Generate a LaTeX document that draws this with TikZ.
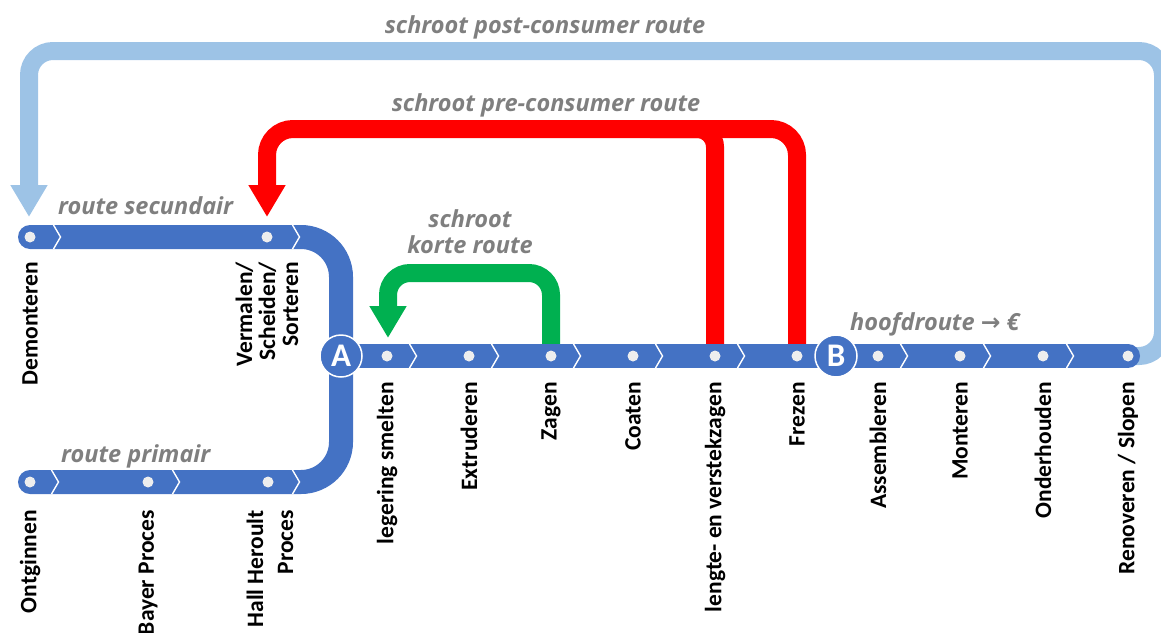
\documentclass[tikz,border=0pt]{standalone}
\usepackage{fontspec}
\setmainfont{Carlito}
\newfontfamily\routefont{Open Sans}
\newfontfamily\symfont{DejaVu Sans}
\usetikzlibrary{arrows.meta}

\definecolor{lineblue}{HTML}{4472C4}
\definecolor{scrapblue}{HTML}{9DC3E6}
\definecolor{scrapred}{HTML}{FF0000}
\definecolor{scrapgreen}{HTML}{00B050}
\definecolor{stopfill}{HTML}{EEEEEE}
\definecolor{routegray}{HTML}{7F7F7F}

\begin{document}
\begin{tikzpicture}[x=1pt,y=-1pt,
  track/.style={draw=lineblue,line width=24pt,line cap=round,rounded corners=40pt},
  scrap/.style={line width=18pt,-{Triangle[width=35pt,length=32pt]}},
  chev/.style={draw=white,line width=1.4pt},
  stop/.style={circle,fill=stopfill,minimum size=11pt,inner sep=0pt},
  hub/.style={circle,fill=lineblue,draw=white,line width=1.5pt,minimum size=42pt,
    inner sep=0pt,text=white,font=\bfseries\fontsize{33}{33}\selectfont},
  stoplabel/.style={rotate=90,anchor=east,inner sep=0pt,align=right,
    font=\bfseries\fontsize{23.5}{23}\selectfont},
  routelabel/.style={inner sep=0pt,text=routegray,align=center,
    font=\routefont\bfseries\itshape\fontsize{23.5}{26}\selectfont}]
\useasboundingbox (0,0) rectangle (1161,632);

% stations
\node[stop] (dem) at (30,237) {};
\node[stop] (ver) at (267,237) {};
\node[stop] (ont) at (30,482) {};
\node[stop] (bay) at (148,482) {};
\node[stop] (hal) at (268,482) {};
\node[stop] (leg) at (387,356) {};
\node[stop] (ext) at (469,356) {};
\node[stop] (zag) at (551,356) {};
\node[stop] (coa) at (633,356) {};
\node[stop] (len) at (715,356) {};
\node[stop] (frez) at (797,356) {};
\node[stop] (ass) at (878,356) {};
\node[stop] (mon) at (960,356) {};
\node[stop] (ond) at (1043,356) {};
\node[stop] (ren) at (1128,356) {};
\node[hub] (A) at (341,356) {A};
\node[hub] (B) at (836,356) {B};

% arrow tip ends of the scrap routes
\coordinate (tipPost) at (29,217);
\coordinate (tipPre) at (267,217);
\coordinate (tipShort) at (388,338);

% post-consumer scrap route
\draw[scrap,draw=scrapblue,rounded corners=24pt]
  (ren.center) -- (1163,356) -- (1163,51) -- (29,51) -- (tipPost);
% pre-consumer scrap route
\draw[scrap,draw=scrapred,rounded corners=26pt]
  (frez.center) -- (797,129) -- (267,129) -- (tipPre);
\draw[draw=scrapred,line width=18pt,rounded corners=18pt]
  (len.center) -- (715,129) -- (650,129);
% short scrap route
\draw[scrap,draw=scrapgreen,rounded corners=22pt]
  (zag.center) -- (551,273) -- (388,273) -- (tipShort);

% tracks
\draw[track] (dem.center) -| (A.center);
\draw[track] (ont.center) -| (A.center);
\draw[track] (A.center) -- (ren.center);

% direction chevrons
\foreach \x/\y in {57/237,296/237,55/482,176/482,296/482,
  413/356,495/356,577/356,659/356,741/356,904/356,987/356,1070/356}
  \draw[chev] (\x-3.5,\y-12) -- (\x+3.5,\y) -- (\x-3.5,\y+12);

% stations and hubs on top
\foreach \s in {dem,ver,ont,bay,hal,leg,ext,zag,coa,len,frez,ass,mon,ond,ren}
  \fill[stopfill] (\s) circle (5.5pt);
\node[hub] at (A) {A};
\node[hub] at (B) {B};

% station names
\node[stoplabel] (l-dem) at (30,262) {Demonteren};
\node[stoplabel] (l-ver) at (267,262) {Vermalen/\\Scheiden/\\Sorteren};
\node[stoplabel] (l-ont) at (30,510) {Ontginnen};
\node[stoplabel] (l-bay) at (148,510) {Bayer Proces};
\node[stoplabel,font=\bfseries\fontsize{23.5}{30}\selectfont] (l-hal) at (270,510) {Hall Heroult\\Proces};
\node[stoplabel] (l-leg) at (387,382) {legering smelten};
\node[stoplabel] (l-ext) at (469,382) {Extruderen};
\node[stoplabel] (l-zag) at (551,382) {Zagen};
\node[stoplabel] (l-coa) at (633,382) {Coaten};
\node[stoplabel] (l-len) at (715,382) {lengte- en verstekzagen};
\node[stoplabel] (l-frez) at (797,382) {Frezen};
\node[stoplabel] (l-ass) at (878,382) {Assembleren};
\node[stoplabel] (l-mon) at (960,382) {Monteren};
\node[stoplabel] (l-ond) at (1043,382) {Onderhouden};
\node[stoplabel] (l-ren) at (1128,382) {Renoveren / Slopen};

% route names
\node[routelabel,anchor=base] (r-post) at (545,33) {schroot post-consumer route};
\node[routelabel,anchor=base] (r-pre) at (546,111) {schroot pre-consumer route};
\node[routelabel,anchor=base west] (r-sec) at (58,214) {route secundair};
\node[routelabel,anchor=base west] (r-prim) at (61,462) {route primair};
\node[routelabel,anchor=base] (r-short) at (470,253) {schroot\\korte route};
\node[routelabel,anchor=base west] (r-main) at (850,330) {hoofdroute {\symfont\bfseries →} €};
\end{tikzpicture}
\end{document}
